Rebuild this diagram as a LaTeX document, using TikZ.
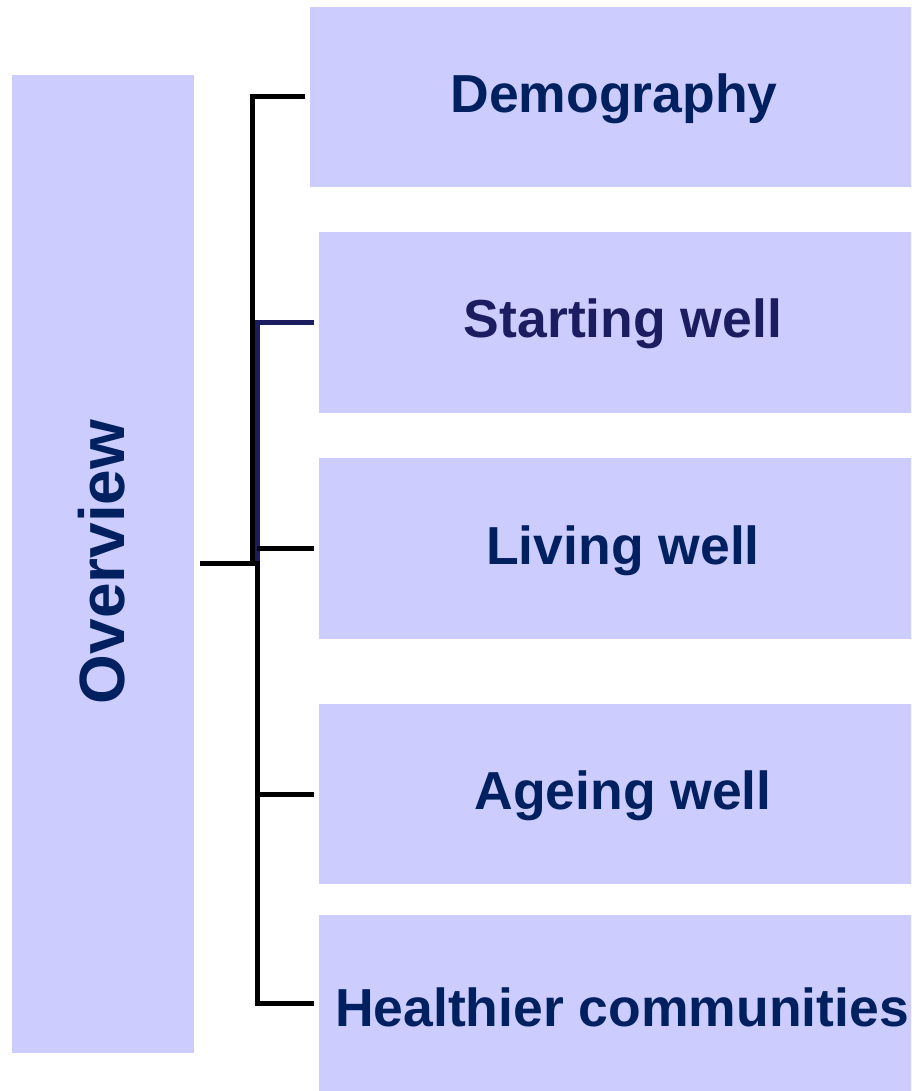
\documentclass[tikz,border=0pt]{standalone}
\usepackage{fontspec}
\setmainfont{Liberation Sans}
\definecolor{boxfill}{HTML}{CCCCFF}
\definecolor{navytext}{HTML}{002060}
\definecolor{navyline}{HTML}{1C1C60}
\begin{document}
\begin{tikzpicture}[x=1pt,y=-1pt,
  topic/.style={rectangle, fill=boxfill, draw=none, inner sep=0pt,
    minimum width=608pt, minimum height=180pt},
  label/.style={text=navytext, font=\fontsize{53.5}{60}\selectfont\bfseries},
  conn/.style={line width=5pt, draw=black},
  connnavy/.style={line width=5pt, draw=navyline}]
\clip (0,0) rectangle (911,1091);
\fill[white] (0,0) rectangle (911,1091);
\node[rectangle, fill=boxfill, inner sep=0pt, minimum width=182pt, minimum height=978pt] (over) at (103,564) {};
\node[rotate=90, text=navytext, font=\fontsize{64}{70}\selectfont\bfseries] (overt) at (102,562) {Overview};
\node[topic] (demo) at (614,97) {};
\node[label] (demot) at (614,99) {Demography};
\node[topic, minimum height=181pt] (start) at (623,322.5) {};
\node[label, text=navyline] (startt) at (623,324) {Starting well};
\node[topic, minimum height=181pt] (living) at (623,548.5) {};
\node[label] (livingt) at (623,551) {Living well};
\node[topic] (ageing) at (623,794) {};
\node[label] (ageingt) at (623,796) {Ageing well};
\node[topic] (health) at (623,1005) {};
\node[label] (healtht) at (622,1007) {Healthier communities};
% connector coordinates
\coordinate (ov) at (200,563);
\coordinate (jA) at (252,563);
\coordinate (jB) at (257,563);
% connectors
\draw[conn, line join=miter] ([xshift=-5pt]demo.west) -| (jA) -- (ov);
\draw[connnavy] ([xshift=-5pt]start.west) -| (jB);
\draw[conn] (jB |- living.west) -- ([xshift=-5pt]living.west);
\draw[conn] (jB |- ageing.west) -- ([xshift=-5pt]ageing.west);
\draw[conn, line join=miter] (jB) ++(0,-2) |- ([xshift=-5pt,yshift=2pt]health.west);
\end{tikzpicture}
\end{document}
